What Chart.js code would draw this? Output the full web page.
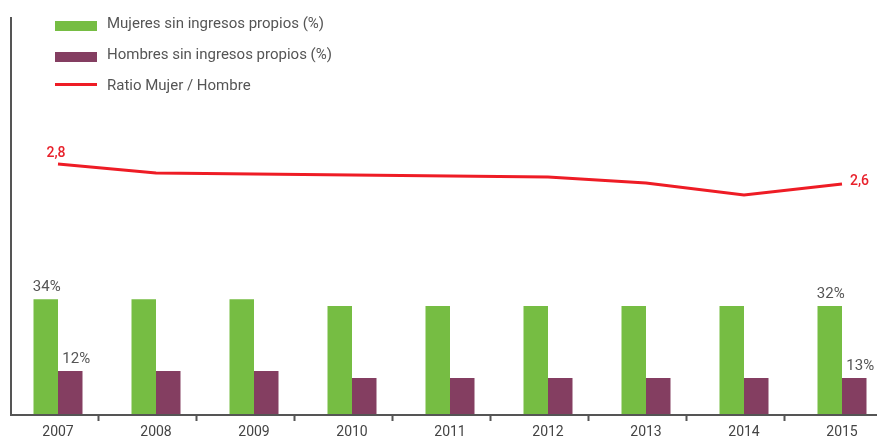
<!DOCTYPE html>
<html lang="es">
<head>
  <meta charset="UTF-8">
  <title>Sin ingresos propios</title>
  <script src="https://cdn.jsdelivr.net/npm/chart.js@4.4.0/dist/chart.umd.min.js"></script>
  <style>
    body { margin: 0; background: #fff; }
    #wrap { width: 877px; height: 439px; }
  </style>
</head>
<body>
  <div id="wrap"><canvas id="chart" width="877" height="439"></canvas></div>
  <script>
    const years = ['2007', '2008', '2009', '2010', '2011', '2012', '2013', '2014', '2015'];
    const mujeres = [34, 34, 34, 32, 32, 32, 32, 32, 32];
    const hombres = [12.9, 12.9, 12.9, 10.9, 10.9, 10.9, 10.9, 10.9, 10.9];
    const ratio = [2.8, 2.71, 2.70, 2.69, 2.68, 2.67, 2.61, 2.49, 2.6];
    const mujeresLabels = ['34%', '', '', '', '', '', '', '', '32%'];
    const hombresLabels = ['12%', '', '', '', '', '', '', '', '13%'];
    const ratioLabels = ['2,8', '', '', '', '', '', '', '', '2,6'];

    const FONT = 'Roboto, "DejaVu Sans", sans-serif';
    const GREY = '#555';

    // axes, ticks, legend and value labels drawn on top
    const decor = {
      id: 'decor',
      afterDatasetsDraw(chart) {
        const ctx = chart.ctx;
        const x = chart.scales.x;
        const area = chart.chartArea;
        const base = area.bottom;
        ctx.save();

        // left axis + bottom axis
        ctx.strokeStyle = GREY;
        ctx.lineWidth = 2;
        ctx.beginPath();
        ctx.moveTo(11, 17);
        ctx.lineTo(11, base);
        ctx.moveTo(10, base);
        ctx.lineTo(chart.width, base);
        ctx.stroke();

        // tick marks between years
        const step = x.getPixelForValue(1) - x.getPixelForValue(0);
        ctx.beginPath();
        for (let i = 0; i < years.length - 1; i++) {
          const tx = Math.round(x.getPixelForValue(i) + step * 0.41) + 0.5;
          ctx.moveTo(tx, base);
          ctx.lineTo(tx, base + 6);
        }
        ctx.stroke();

        // year labels
        ctx.fillStyle = '#444';
        ctx.font = '14px ' + FONT;
        ctx.textAlign = 'center';
        ctx.textBaseline = 'middle';
        years.forEach((y, i) => ctx.fillText(y, x.getPixelForValue(i), 432));

        // bar value labels
        ctx.fillStyle = GREY;
        ctx.font = '15px ' + FONT;
        const m0 = chart.getDatasetMeta(0).data;
        const m1 = chart.getDatasetMeta(1).data;
        mujeresLabels.forEach((t, i) => {
          if (t) ctx.fillText(t, m0[i].x + 1, m0[i].y - 12);
        });
        hombresLabels.forEach((t, i) => {
          if (t) ctx.fillText(t, m1[i].x + 6, m1[i].y - 12);
        });

        // ratio labels
        const m2 = chart.getDatasetMeta(2).data;
        ctx.fillStyle = '#e8212b';
        ctx.font = '500 14px ' + FONT;
        ratioLabels.forEach((t, i) => {
          if (!t) return;
          if (i === 0) {
            ctx.textAlign = 'center';
            ctx.fillText(t, m2[i].x - 2, m2[i].y - 11);
          } else {
            ctx.textAlign = 'left';
            ctx.fillText(t, m2[i].x + 8, m2[i].y - 3);
          }
        });

        // legend
        const marks = [26, 57, 84.5];
        const texts = [24, 55, 86];
        ctx.textAlign = 'left';
        ctx.font = '15px ' + FONT;
        chart.data.datasets.forEach((ds, i) => {
          const cy = marks[i];
          if (ds.type === 'line') {
            ctx.strokeStyle = ds.borderColor;
            ctx.lineWidth = 3;
            ctx.beginPath();
            ctx.moveTo(55, cy);
            ctx.lineTo(97, cy);
            ctx.stroke();
          } else {
            ctx.fillStyle = ds.backgroundColor;
            ctx.fillRect(55, cy - 5, 42, 10);
          }
          ctx.fillStyle = GREY;
          ctx.fillText(ds.label, 107, texts[i]);
        });

        ctx.restore();
      }
    };

    new Chart(document.getElementById('chart'), {
      data: {
        labels: years,
        datasets: [
          {
            type: 'bar',
            label: 'Mujeres sin ingresos propios (%)',
            data: mujeres,
            backgroundColor: '#76bd43',
            yAxisID: 'y',
            categoryPercentage: 0.5,
            barPercentage: 1,
            clip: false,
            order: 2
          },
          {
            type: 'bar',
            label: 'Hombres sin ingresos propios (%)',
            data: hombres,
            backgroundColor: '#843e61',
            yAxisID: 'y',
            categoryPercentage: 0.5,
            barPercentage: 1,
            clip: false,
            order: 2
          },
          {
            type: 'line',
            label: 'Ratio Mujer / Hombre',
            data: ratio,
            borderColor: '#ee1c25',
            borderWidth: 3,
            pointRadius: 0,
            fill: false,
            tension: 0,
            yAxisID: 'y1',
            clip: false,
            order: 1
          }
        ]
      },
      options: {
        responsive: false,
        animation: false,
        layout: { padding: { left: 58, right: 35, top: 20, bottom: 24 } },
        plugins: {
          legend: { display: false },
          tooltip: { enabled: false }
        },
        scales: {
          x: { display: false, offset: false },
          y: { display: false, min: 0, max: 116 },
          y1: { display: false, min: 0.29, max: 4.24 }
        }
      },
      plugins: [decor]
    });
  </script>
</body>
</html>
